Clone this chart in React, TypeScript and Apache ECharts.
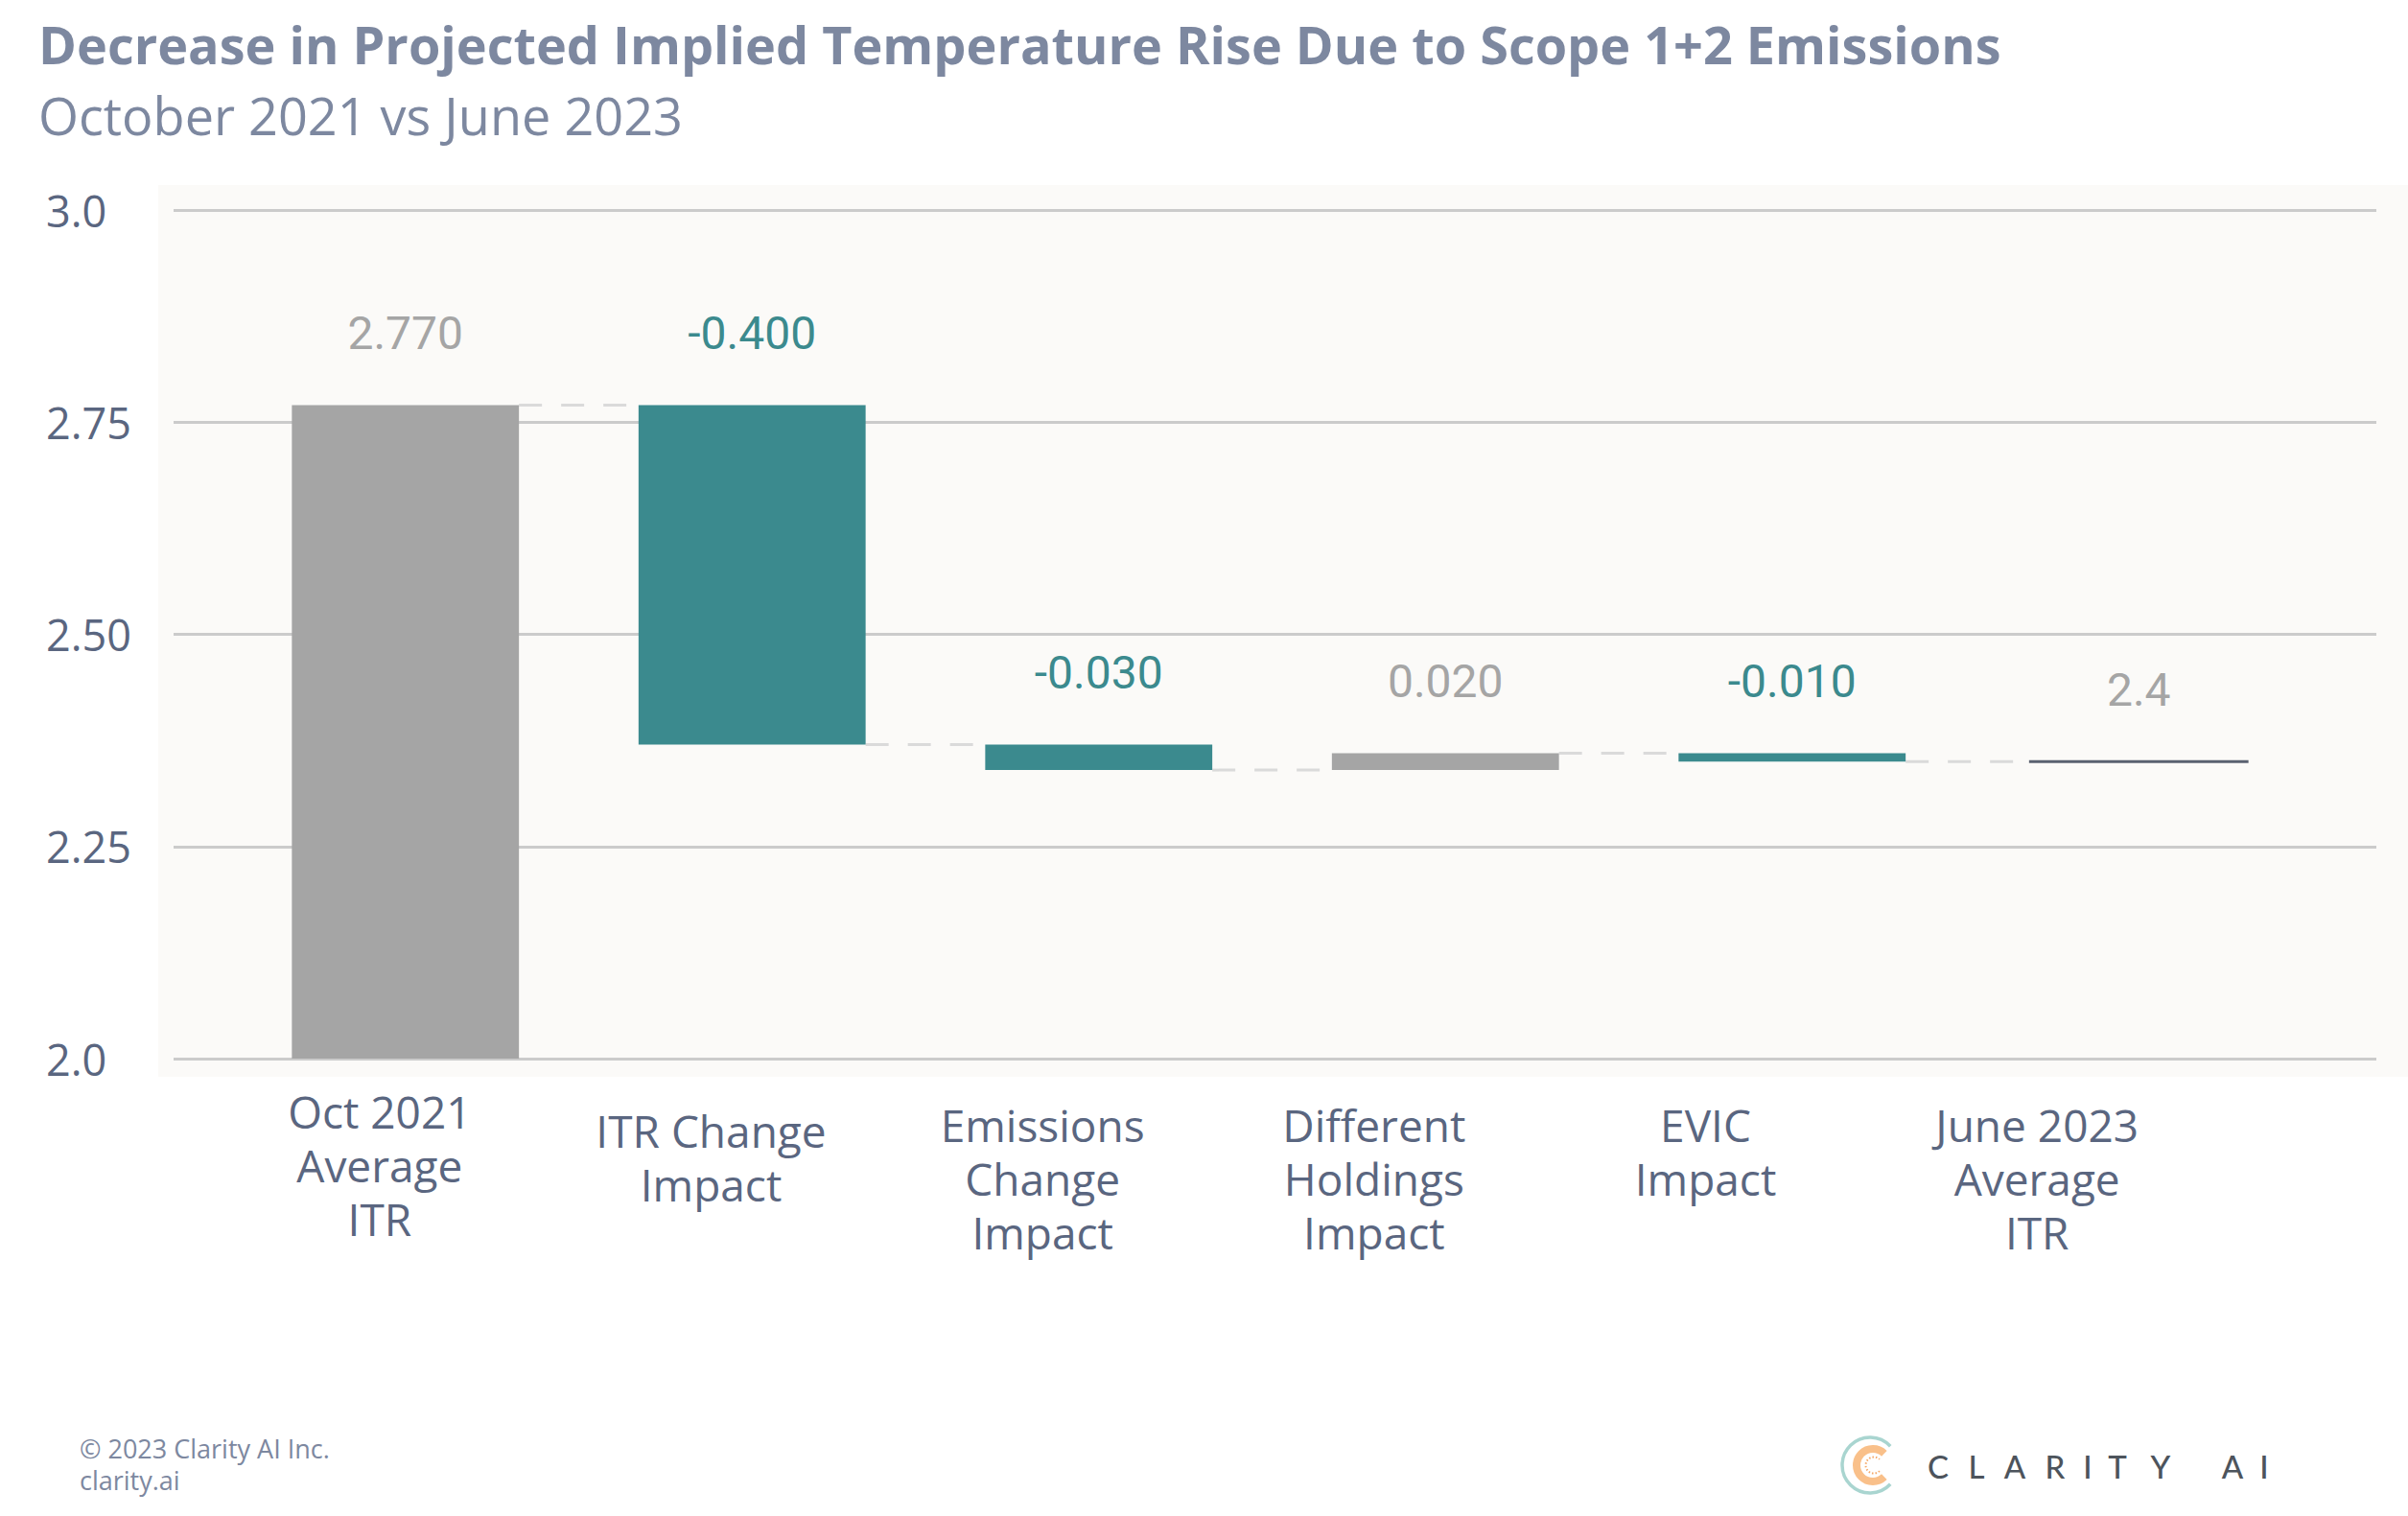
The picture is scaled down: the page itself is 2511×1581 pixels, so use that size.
import React, { useEffect, useRef } from "react";
import * as echarts from "echarts";

// ---------- data ----------
const CATEGORIES = [
  "Oct 2021\nAverage\nITR",
  "ITR Change\nImpact",
  "Emissions\nChange\nImpact",
  "Different\nHoldings\nImpact",
  "EVIC\nImpact",
  "June 2023\nAverage\nITR",
];
// first value is the starting total, the rest are changes; the final bar is the running total
const CHANGES = [2.77, -0.4, -0.03, 0.02, -0.01];
const VALUE_LABELS = ["2.770", "-0.400", "-0.030", "0.020", "-0.010", "2.4"];
const Y_TICKS = [2.0, 2.25, 2.5, 2.75, 3.0];
const Y_TICK_LABELS = ["2.0", "2.25", "2.50", "2.75", "3.0"];
const Y_MIN = 2.0;
const Y_MAX = 3.0;
const Y_STEP = 0.25;

// ---------- styles ----------
const GRAY = "#a5a5a5";
const TEAL = "#3b8a8e";
const TOTAL_LINE = "#5a6170";
const GRID_LINE = "#cbcbcb";
const DASH = "#dadada";
const TITLE_COLOR = "#7d88a0";
const AXIS_COLOR = "#5a6680";
const BAR_RATIO = 0.655;
const LABEL_GAP = 51;
const LABEL_PAD_TOP = [0, 20, 14, 14, 14, 14];

type Bar = { value: number[]; kind: string; label: string };

function buildBars(): { bars: Bar[]; connectors: number[][] } {
  const bars: Bar[] = [];
  const connectors: number[][] = [];
  let run = 0;
  CHANGES.forEach((c, i) => {
    const start = run;
    const end = run + c;
    run = end;
    const kind = i === 0 ? "start" : c < 0 ? "down" : "up";
    bars.push({ value: [i, Math.min(start, end), Math.max(start, end)], kind, label: VALUE_LABELS[i] });
    connectors.push([i, end]);
  });
  bars.push({ value: [CHANGES.length, run, run], kind: "total", label: VALUE_LABELS[CHANGES.length] });
  return { bars, connectors };
}

export default function App() {
  const ref = useRef<HTMLDivElement>(null);

  useEffect(() => {
    if (!ref.current) return;
    const chart = echarts.init(ref.current, undefined, { renderer: "svg" });
    const { bars, connectors } = buildBars();

    const gridTop = 219;
    const gridBottom = 1581 - 1104;

    const logoLetters = [
      ["C", 2021], ["L", 2061], ["A", 2101], ["R", 2143], ["I", 2177],
      ["T", 2208], ["Y", 2253], ["A", 2328], ["I", 2361],
    ];
    const logoY = 1528;

    const option: any = {
      animation: false,
      backgroundColor: "#ffffff",
      grid: [
        { left: 181, right: 33, top: gridTop, bottom: gridBottom },
        { left: 242, right: 100, top: gridTop, bottom: gridBottom },
        { left: 223, right: 214, top: gridTop, bottom: gridBottom },
      ],
      xAxis: [
        { gridIndex: 0, type: "value", min: 0, max: 1, show: false },
        { gridIndex: 1, type: "category", data: CATEGORIES, show: false },
        {
          gridIndex: 2,
          type: "category",
          data: CATEGORIES.map((c, i) => ({ value: c, textStyle: { padding: [LABEL_PAD_TOP[i], 0, 0, 0] } })),
          axisLine: { show: false },
          axisTick: { show: false },
          axisLabel: {
            interval: 0,
            margin: 27,
            fontSize: 46,
            lineHeight: 56,
            fontFamily: "Open Sans",
            color: AXIS_COLOR,
          },
        },
      ],
      yAxis: [
        {
          gridIndex: 0,
          type: "value",
          min: Y_MIN,
          max: Y_MAX,
          interval: Y_STEP,
          axisLine: { show: false },
          axisTick: { show: false },
          splitLine: { lineStyle: { color: GRID_LINE, width: 3 } },
          axisLabel: {
            align: "left",
            margin: 133,
            fontSize: 45,
            fontFamily: "Open Sans",
            color: AXIS_COLOR,
            formatter: (v: number) => {
              const k = Y_TICKS.findIndex((t) => Math.abs(t - v) < 1e-6);
              return k >= 0 ? Y_TICK_LABELS[k] : String(v);
            },
          },
        },
        { gridIndex: 1, type: "value", min: Y_MIN, max: Y_MAX, show: false },
        { gridIndex: 2, type: "value", min: 0, max: 1, show: false },
      ],
      series: [
        {
          type: "custom",
          xAxisIndex: 1,
          yAxisIndex: 1,
          z: 1,
          encode: { x: 0, y: 1 },
          data: connectors,
          renderItem: (params: any, api: any) => {
            const i = api.value(0);
            const v = api.value(1);
            const w = api.size([1, 0])[0] * BAR_RATIO;
            const p0 = api.coord([i, v]);
            const p1 = api.coord([i + 1, v]);
            return {
              type: "line",
              shape: { x1: p0[0] + w / 2, y1: p0[1], x2: p1[0] - w / 2, y2: p1[1] },
              style: { stroke: DASH, lineWidth: 3, lineDash: [24, 20] },
            };
          },
        },
        {
          type: "custom",
          xAxisIndex: 1,
          yAxisIndex: 1,
          z: 3,
          encode: { x: 0, y: [1, 2] },
          data: bars.map((b) => b.value),
          renderItem: (params: any, api: any) => {
            const b = bars[params.dataIndex];
            const i = api.value(0);
            const lo = api.value(1);
            const hi = api.value(2);
            const w = api.size([1, 0])[0] * BAR_RATIO;
            const cs = params.coordSys;
            const pTop = api.coord([i, hi]);
            const pBot = api.coord([i, lo]);
            const cx = pTop[0];
            const yTop = Math.max(pTop[1], cs.y);
            const yBot = Math.min(pBot[1], cs.y + cs.height);
            const fill = b.kind === "down" ? TEAL : GRAY;
            const labelColor = b.kind === "down" ? TEAL : GRAY;
            const children: any[] = [];
            if (b.kind === "total") {
              children.push({
                type: "rect",
                shape: { x: cx - w / 2 + 4, y: yTop - 1.5, width: w - 8, height: 3 },
                style: { fill: TOTAL_LINE },
              });
            } else {
              children.push({
                type: "rect",
                shape: { x: cx - w / 2, y: yTop, width: w, height: yBot - yTop },
                style: { fill },
              });
            }
            children.push({
              type: "text",
              style: {
                text: b.label,
                x: cx,
                y: yTop - LABEL_GAP,
                align: "center",
                textAlign: "center",
                verticalAlign: "bottom",
                textVerticalAlign: "bottom",
                fill: labelColor,
                fontSize: 48,
                fontFamily: "Roboto",
              },
            });
            return { type: "group", children };
          },
        },
      ],
      graphic: {
        elements: [
          {
            type: "rect",
            z: -10,
            silent: true,
            shape: { x: 165, y: 193, width: 2346, height: 930 },
            style: { fill: "#fbfaf8" },
          },
          {
            type: "text",
            x: 40,
            y: 46,
            style: {
              text: "Decrease in Projected Implied Temperature Rise Due to Scope 1+2 Emissions",
              fill: TITLE_COLOR,
              fontSize: 54,
              lineHeight: 56,
              fontWeight: "bold",
              fontFamily: "Open Sans",
              verticalAlign: "middle",
              textVerticalAlign: "middle",
            },
          },
          {
            type: "text",
            x: 40,
            y: 120,
            style: {
              text: "October 2021 vs June 2023",
              fill: TITLE_COLOR,
              fontSize: 54,
              lineHeight: 56,
              fontFamily: "Open Sans",
              verticalAlign: "middle",
              textVerticalAlign: "middle",
            },
          },
          {
            type: "text",
            x: 83,
            y: 1510,
            style: {
              text: "© 2023 Clarity AI Inc.",
              fill: TITLE_COLOR,
              fontSize: 27,
              lineHeight: 30,
              fontFamily: "Open Sans",
              verticalAlign: "middle",
              textVerticalAlign: "middle",
            },
          },
          {
            type: "text",
            x: 83,
            y: 1543,
            style: {
              text: "clarity.ai",
              fill: TITLE_COLOR,
              fontSize: 27,
              lineHeight: 30,
              fontFamily: "Open Sans",
              verticalAlign: "middle",
              textVerticalAlign: "middle",
            },
          },
          {
            type: "arc",
            shape: { cx: 1950, cy: logoY, r: 29, startAngle: 0.75, endAngle: 2 * Math.PI - 0.75, clockwise: true },
            style: { stroke: "#a9d5d0", lineWidth: 3.5 },
          },
          {
            type: "arc",
            shape: { cx: 1953, cy: logoY, r: 17, startAngle: 0.8, endAngle: 2 * Math.PI - 0.8, clockwise: true },
            style: { stroke: "#f9c08a", lineWidth: 8 },
          },
          {
            type: "arc",
            shape: { cx: 1954, cy: logoY, r: 8.5, startAngle: 0.8, endAngle: 2 * Math.PI - 0.8, clockwise: true },
            style: { stroke: "#f4a868", lineWidth: 2, lineDash: [1.5, 2] },
          },
          ...logoLetters.map(([ch, x]) => ({
            type: "text",
            x: x as number,
            y: logoY + 1,
            style: {
              text: ch as string,
              fill: "#4d545c",
              fontSize: 33,
              fontWeight: 500,
              fontFamily: "Lato",
              align: "center",
              textAlign: "center",
              verticalAlign: "middle",
              textVerticalAlign: "middle",
            },
          })),
        ],
      },
    };

    chart.setOption(option);
    return () => chart.dispose();
  }, []);

  return (
    <div
      ref={ref}
      style={{ position: "fixed", left: 0, top: 0, width: 2511, height: 1581, background: "#ffffff" }}
    />
  );
}
